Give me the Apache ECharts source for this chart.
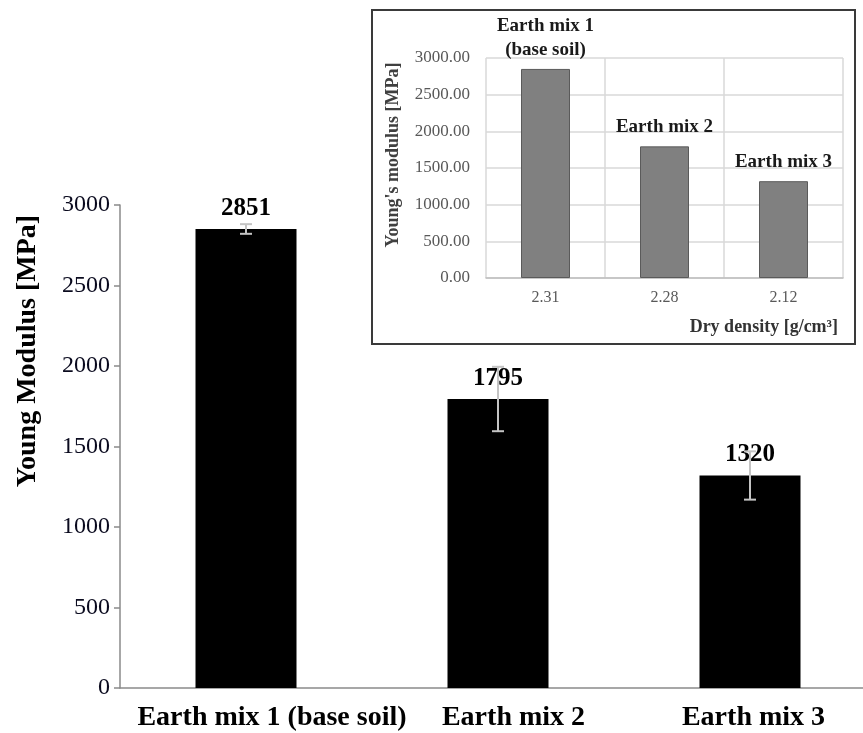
<!DOCTYPE html>
<html>
<head>
<meta charset="utf-8">
<script src="https://cdn.jsdelivr.net/npm/echarts@6/dist/echarts.min.js"></script>
<style>html,body{margin:0;padding:0;background:#fff}#c{width:863px;height:733px}</style>
</head>
<body>
<div id="c"></div>
<script>
// Main chart data
const categories = ['Earth mix 1 (base soil)', 'Earth mix 2', 'Earth mix 3'];
const modulus = [2851, 1795, 1320];
const errors = [30, 200, 150];
const yTickMin = 0, yTickMax = 3000, yTickStep = 500;
const labelShift = [52, 31, 7]; // left padding shifting category labels

// Inset data
const insetCategories = ['2.31', '2.28', '2.12'];
const insetModulus = [2851, 1795, 1320];
const insetLabels = ['Earth mix 1\n(base soil)', 'Earth mix 2', 'Earth mix 3'];

const SERIF = '"Liberation Serif", "Times New Roman", serif';

const chart = echarts.init(document.getElementById('c'), null, {renderer: 'canvas'});

const rich = {};
categories.forEach((c, i) => {
  rich['c' + i] = {fontFamily: SERIF, fontWeight: 'bold', fontSize: 28, color: '#000', padding: [0, 0, 0, labelShift[i]]};
});

const option = {
  animation: false,
  backgroundColor: '#fff',
  grid: [
    {left: 120, width: 756, top: 205, height: 483, outerBoundsMode: 'none', containLabel: false},
    {left: 486, width: 357, top: 58, height: 220, outerBoundsMode: 'none', containLabel: false}
  ],
  xAxis: [
    {
      type: 'category', gridIndex: 0, data: categories,
      axisLine: {lineStyle: {color: '#8a8a8a', width: 1.5}},
      axisTick: {show: false},
      axisLabel: {
        interval: 0, margin: 16,
        formatter: (v, i) => '{c' + i + '|' + v + '}',
        rich: rich
      }
    },
    {
      type: 'category', gridIndex: 1, data: insetCategories,
      axisLine: {lineStyle: {color: '#bfbfbf', width: 1.5}},
      axisTick: {show: false},
      splitLine: {show: true, lineStyle: {color: '#d9d9d9', width: 1.5}},
      axisLabel: {interval: 0, margin: 12, fontFamily: SERIF, fontSize: 16, color: '#595959'}
    }
  ],
  yAxis: [
    {
      type: 'value', gridIndex: 0, min: yTickMin, max: yTickMax, interval: yTickStep,
      axisLine: {show: true, lineStyle: {color: '#8a8a8a', width: 1.5}},
      axisTick: {show: true, length: 6, lineStyle: {color: '#8a8a8a', width: 1.5}},
      splitLine: {show: false},
      axisLabel: {margin: 10, fontFamily: SERIF, fontSize: 24, color: '#0a0a1e',
        formatter: v => String(v)}
    },
    {
      type: 'value', gridIndex: 1, min: yTickMin, max: yTickMax, interval: yTickStep,
      axisLine: {show: false},
      axisTick: {show: false},
      splitLine: {show: true, lineStyle: {color: '#d9d9d9', width: 1.5}},
      axisLabel: {margin: 16, fontFamily: SERIF, fontSize: 17, color: '#595959',
        formatter: v => v.toFixed(2)}
    }
  ],
  graphic: {
    elements: [
      {
        type: 'rect', z: -5, silent: true,
        shape: {x: 372, y: 10, width: 483, height: 334},
        style: {fill: '#fff', stroke: '#3a3a3a', lineWidth: 2}
      },
      {
        type: 'text', x: 28, y: 351, rotation: Math.PI / 2, z: 10,
        style: {text: 'Young Modulus [MPa]', font: 'bold 28px ' + SERIF, fill: '#000',
          align: 'center', verticalAlign: 'middle', textAlign: 'center', textVerticalAlign: 'middle'}
      },
      {
        type: 'text', x: 393, y: 155, rotation: Math.PI / 2, z: 10,
        style: {text: "Young's modulus [MPa]", font: 'bold 18px ' + SERIF, fill: '#404040',
          align: 'center', verticalAlign: 'middle', textAlign: 'center', textVerticalAlign: 'middle'}
      },
      {
        type: 'text', x: 838, y: 327, z: 10,
        style: {text: 'Dry density [g/cm³]', font: 'bold 18px ' + SERIF, fill: '#333',
          align: 'right', verticalAlign: 'middle', textAlign: 'right', textVerticalAlign: 'middle'}
      }
    ]
  },
  series: [
    {
      type: 'bar', xAxisIndex: 0, yAxisIndex: 0, data: modulus, barWidth: 101,
      itemStyle: {color: '#000'},
      label: {show: true, position: 'top', distance: 8, fontFamily: SERIF, fontWeight: 'bold',
        fontSize: 25, color: '#000'},
      z: 2
    },
    {
      type: 'custom', xAxisIndex: 0, yAxisIndex: 0, z: 4,
      data: categories.map((c, i) => [i, modulus[i] - errors[i], modulus[i] + errors[i]]),
      encode: {x: 0, y: [1, 2]},
      renderItem: function (params, api) {
        const lo = api.coord([api.value(0), api.value(1)]);
        const hi = api.coord([api.value(0), api.value(2)]);
        const hw = 6;
        const st = {stroke: '#c4c4c4', lineWidth: 2};
        return {
          type: 'group',
          children: [
            {type: 'line', shape: {x1: lo[0], y1: lo[1], x2: hi[0], y2: hi[1]}, style: st},
            {type: 'line', shape: {x1: lo[0] - hw, y1: lo[1], x2: lo[0] + hw, y2: lo[1]}, style: st},
            {type: 'line', shape: {x1: hi[0] - hw, y1: hi[1], x2: hi[0] + hw, y2: hi[1]}, style: st}
          ]
        };
      }
    },
    {
      type: 'bar', xAxisIndex: 1, yAxisIndex: 1, data: insetModulus, barWidth: 49,
      itemStyle: {color: '#808080', borderColor: '#5a5a5a', borderWidth: 1},
      label: {show: true, position: 'top', distance: 7, fontFamily: SERIF, fontWeight: 'bold',
        fontSize: 19, lineHeight: 24, color: '#1a1a1a',
        formatter: p => insetLabels[p.dataIndex]},
      z: 3
    }
  ]
};
chart.setOption(option);
</script>
</body>
</html>
